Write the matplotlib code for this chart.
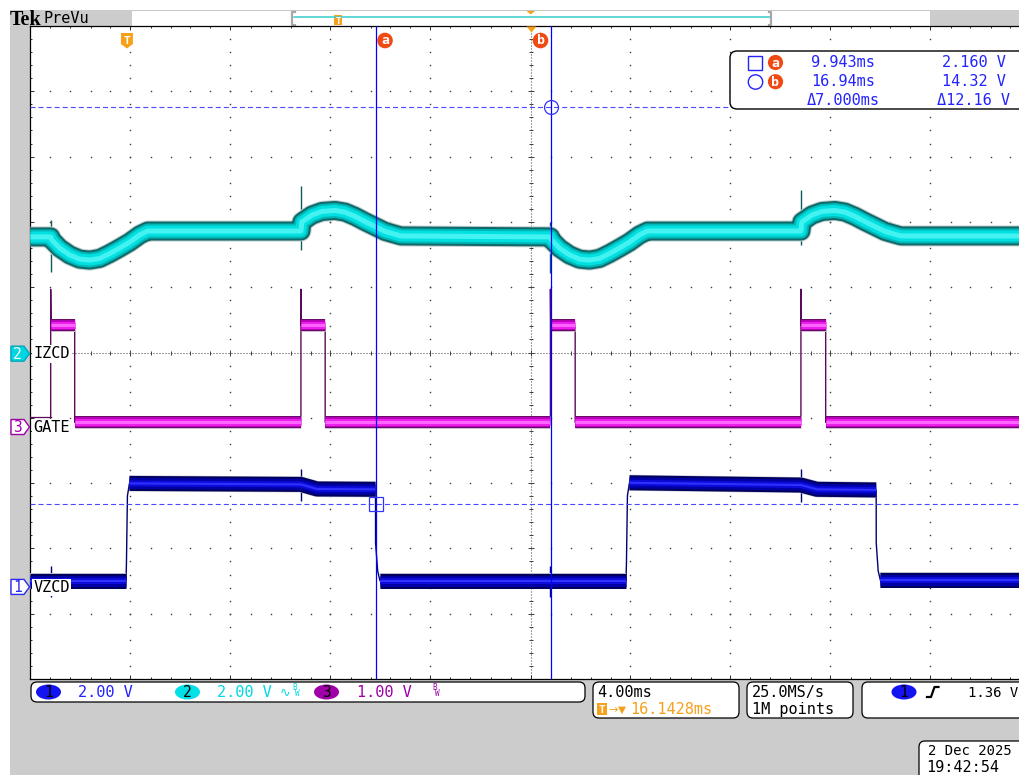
import numpy as np
import matplotlib
matplotlib.use("Agg")
import matplotlib.pyplot as plt
from matplotlib.patches import Rectangle, Polygon, Circle, Ellipse, FancyBboxPatch

plt.rcParams['font.family'] = ['DejaVu Sans Mono', 'DejaVu Sans']
plt.rcParams['lines.scale_dashes'] = False

W, H, DPI = 1020, 775, 100

# ---------------- display settings ----------------
ms_per_div = 4.00
expansion_ms = 16.1428          # screen centre, relative to the trigger
n_hdiv, n_vdiv = 10, 10
t_left = expansion_ms - ms_per_div * n_hdiv / 2
t_right = expansion_ms + ms_per_div * n_hdiv / 2

ch_names = {1: 'VZCD', 2: 'IZCD', 3: 'GATE'}
volts_per_div = {1: 2.00, 2: 2.00, 3: 1.00}
ground_div = {1: -3.395, 2: 0.0, 3: -1.141}
marker_div = {1: -3.59, 2: -0.018, 3: -1.141}
trigger_level_v = 1.36

# ---------------- channel 1 : VZCD (V) ----------------
vzcd_t = [t_left, -0.04, -0.02, 0.02, 0.10, 6.96, 7.60, 9.943, 9.945, 10.03, 10.12,
          19.96, 19.98, 20.02, 20.10, 26.96, 27.60, 29.97, 29.972, 30.05, 30.14, t_right]
vzcd_v = [-0.20, -0.20, 0.30, 2.40, 2.78, 2.75, 2.61, 2.60, 0.96, 0.10, -0.20,
          -0.20, 0.30, 2.40, 2.80, 2.73, 2.60, 2.58, 0.96, 0.10, -0.19, -0.19]
vzcd_spike_t = [-3.05, 6.96, 16.94, 26.96]
vzcd_spike_hi = [0.26, 3.22, 0.26, 3.21]
vzcd_spike_lo = [-0.69, 2.24, -0.69, 2.22]

# ---------------- channel 2 : IZCD (V) ----------------
izcd_event_t = [-3.05, 6.96, 16.94, 26.96]
izcd_event_kind = ['dip', 'hump', 'dip', 'hump']
dip_off_ms = [0.00, 0.04, 0.36, 0.76, 1.16, 1.56, 1.96, 2.36, 2.76, 3.16, 3.56, 3.88]
dip_v = [3.54, 3.45, 3.20, 2.99, 2.86, 2.83, 2.88, 3.03, 3.20, 3.38, 3.60, 3.72]
hump_off_ms = [0.00, 0.04, 0.44, 0.84, 1.36, 1.76, 2.16, 2.56, 2.96, 3.36, 3.72, 4.00]
hump_v = [3.72, 4.00, 4.21, 4.32, 4.35, 4.30, 4.17, 4.01, 3.86, 3.71, 3.63, 3.57]
izcd_start_v = 3.54
izcd_end_v = 3.57
izcd_spike_hi = [4.06, 5.10, 4.00, 4.98]
izcd_spike_lo = [2.47, 3.14, 2.45, 3.29]

# ---------------- channel 3 : GATE (V) ----------------
gate_rise_t = [-3.05, 6.96, 16.94, 26.96]
gate_fall_t = [-2.09, 7.93, 17.93, 27.95]
gate_low_v = 0.07
gate_high_v = 1.56
gate_overshoot_v = 2.11
gate_idle_v = 0.16

# ---------------- cursors ----------------
cursor_t = [9.943, 16.943]      # ms
cursor_v = [2.160, 14.32]       # V on channel 1

# ---------------- build traces ----------------
izcd_t, izcd_v = [t_left], [izcd_start_v]
for te, kind in zip(izcd_event_t, izcd_event_kind):
    off, prof = (dip_off_ms, dip_v) if kind == 'dip' else (hump_off_ms, hump_v)
    izcd_t += [te + o for o in off]
    izcd_v += list(prof)
izcd_t.append(t_right)
izcd_v.append(izcd_end_v)

gate_t, gate_v = [], []
for i, (r, f) in enumerate(zip(gate_rise_t, gate_fall_t)):
    gate_t += [r, r, r + 0.012, f, f]
    gate_v += [gate_idle_v if i == 0 else gate_low_v, gate_overshoot_v,
               gate_high_v, gate_high_v, gate_low_v]
gate_t.append(t_right)
gate_v.append(gate_low_v)


def to_div(v, ch):
    return np.asarray(v, float) / volts_per_div[ch] + ground_div[ch]


# ---------------- figure ----------------
fig = plt.figure(figsize=(W / DPI, H / DPI), dpi=DPI)
fig.patch.set_facecolor('white')

bg = fig.add_axes([0, 0, 1, 1], zorder=0)
bg.set_xlim(0, W)
bg.set_ylim(H, 0)
bg.axis('off')

GREY = '#cccccc'
bg.add_patch(Rectangle((10, 9.5), W - 10, 1.5, color='#c6c6c6', lw=0))
bg.add_patch(Rectangle((10, 10), 122, 16, color=GREY, lw=0))
bg.add_patch(Rectangle((930, 10), 90, 16, color=GREY, lw=0))
bg.add_patch(Rectangle((10, 26), 20, H - 26, color=GREY, lw=0))
bg.add_patch(Rectangle((10, 679), W - 10, H - 679, color=GREY, lw=0))
bg.text(10, 25, 'Tek', family='Liberation Serif', weight='bold', fontsize=14.5, va='baseline')
bg.text(44, 22.8, 'PreVu', fontsize=11, va='baseline')

# record bar
bg.plot([294, 770], [16.7, 16.7], color='#38cccc', lw=1.1)
for xb, d in [(292.5, 1), (771.5, -1)]:
    bg.plot([xb + 2.5 * d, xb, xb, xb + 2.5 * d], [12, 12, 24.5, 24.5], color='#a8a8a8', lw=1.6)
bg.add_patch(Rectangle((334, 15), 8, 10, color='#f7a11a', lw=0))
bg.text(338, 23.5, 'T', color='white', fontsize=6.5, weight='bold', ha='center', va='baseline')
bg.add_patch(Polygon([(526.5, 11), (535, 11), (530.75, 14.5)], color='#f7a11a', lw=0))

# ---------------- graticule axes ----------------
ax = fig.add_axes([30.5 / W, 96 / H, 1000 / W, 653 / H], zorder=1)
ax.set_facecolor('white')
ax.set_xlim(t_left, t_right)
ax.set_ylim(-n_vdiv / 2, n_vdiv / 2)
SX = 1000 / (t_right - t_left)
SY = 653 / n_vdiv

xmaj = t_left + ms_per_div * np.arange(n_hdiv + 1)
xmin = t_left + ms_per_div / 5 * np.arange(5 * n_hdiv + 1)
ymaj = np.arange(-n_vdiv / 2, n_vdiv / 2 + 1)
ymin = -n_vdiv / 2 + 0.2 * np.arange(5 * n_vdiv + 1)
ax.set_xticks(xmaj)
ax.set_xticks(xmin, minor=True)
ax.set_yticks(ymaj)
ax.set_yticks(ymin, minor=True)
ax.tick_params(which='both', direction='in', top=True, bottom=True, left=True, right=False,
               labelbottom=False, labelleft=False, color='#303030', width=0.72)
ax.tick_params(which='major', length=3.0)
ax.tick_params(which='minor', length=1.4)
for s in ['left', 'top', 'bottom']:
    ax.spines[s].set_color('black')
    ax.spines[s].set_linewidth(0.9)
ax.spines['right'].set_visible(False)

DOT = dict(ls='none', marker='s', ms=1.0, mew=0, color='#3a3a3a', zorder=1)
for xv in xmaj[1:-1]:
    if abs(xv - expansion_ms) > 1e-6:
        ax.plot(np.full(len(ymin) - 2, xv), ymin[1:-1], **DOT)
for yv in ymaj[1:-1]:
    if abs(yv) > 1e-6:
        ax.plot(xmin[1:-1], np.full(len(xmin) - 2, yv), **DOT)
# centre cross
ax.axhline(0, color='#444444', lw=0.75, dashes=(0.72, 1.44), zorder=1)
ax.axvline(expansion_ms, color='#444444', lw=0.75, dashes=(0.72, 1.44), zorder=1)
ax.plot(xmin[1:-1], np.zeros(len(xmin) - 2), ls='none', marker='|', ms=3.0, mew=0.72, color='#444444', zorder=1)
ax.plot(xmaj[1:-1], np.zeros(len(xmaj) - 2), ls='none', marker='|', ms=5.0, mew=0.72, color='#444444', zorder=1)
ax.plot(np.full(len(ymin) - 2, expansion_ms), ymin[1:-1], ls='none', marker='_', ms=3.0, mew=0.72, color='#444444', zorder=1)
ax.plot(np.full(len(ymaj) - 2, expansion_ms), ymaj[1:-1], ls='none', marker='_', ms=5.0, mew=0.72, color='#444444', zorder=1)


def flat_runs(t, y, max_ratio=3.0):
    t = np.asarray(t, float)
    y = np.asarray(y, float)
    runs, cur = [], [0]
    for i in range(1, len(t)):
        dx = abs(t[i] - t[i - 1]) * SX
        dy = abs(y[i] - y[i - 1]) * SY
        if dy > max_ratio * max(dx, 1e-9):
            if len(cur) > 1:
                runs.append(cur)
            cur = [i]
        else:
            cur.append(i)
    if len(cur) > 1:
        runs.append(cur)
    return [(t[r], y[r]) for r in runs]


def draw_band(t, y, layers, z, max_ratio=3.0):
    for rt, ry in flat_runs(t, y, max_ratio):
        for lw_px, col in layers:
            ax.plot(rt, ry, color=col, lw=lw_px * 0.72, solid_capstyle='butt',
                    solid_joinstyle='round', zorder=z)


CYAN_LAYERS = [(21, '#c4cdcd'), (19, '#0e6a6a'), (15, '#00b6b6'), (11, '#00e0e0'), (5, '#45f2f2')]
MAG_LAYERS = [(13, '#d0bcd0'), (12, '#6a0a6a'), (10, '#b800b8'), (7, '#ec20ec'), (3, '#ff66ff')]
BLUE_LAYERS = [(16, '#babacd'), (15, '#00005e'), (11, '#0000a4'), (6, '#0c0cdc'), (2, '#3030ff')]

# IZCD
izcd_d = to_div(izcd_v, 2)
ax.vlines(izcd_event_t, to_div(izcd_spike_lo, 2), to_div(izcd_spike_hi, 2), color='#0b5c5c', lw=1.0, zorder=3)
draw_band(izcd_t, izcd_d, CYAN_LAYERS, 3, max_ratio=50)

# GATE
gate_d = to_div(gate_v, 3)
ax.plot([t_left, gate_rise_t[0]], to_div([gate_idle_v, gate_idle_v], 3), color='#5a0a5a', lw=0.9, zorder=3)
ax.plot(gate_t, gate_d, color='#5a0a5a', lw=1.0, zorder=3)
draw_band(gate_t, gate_d, MAG_LAYERS, 3)

# VZCD
vzcd_d = to_div(vzcd_v, 1)
ax.vlines(vzcd_spike_t, to_div(vzcd_spike_lo, 1), to_div(vzcd_spike_hi, 1), color='#00006e', lw=1.0, zorder=4)
ax.plot(vzcd_t, vzcd_d, color='#00006e', lw=1.0, zorder=4)
draw_band(vzcd_t, vzcd_d, BLUE_LAYERS, 4)

# cursors
for ct in cursor_t:
    ax.axvline(ct, color='#0000ff', lw=0.9, zorder=8)
for cv in cursor_v:
    ax.axhline(to_div(cv, 1), color='#4848ff', lw=0.8, dashes=(3.6, 2.2), zorder=8)
ax.plot([cursor_t[0]], [to_div(cursor_v[0], 1)], marker='s', ms=10, mfc='none', mec='#3232ff', mew=0.9, zorder=9)
ax.plot([cursor_t[1]], [to_div(cursor_v[1], 1)], marker='o', ms=10, mfc='none', mec='#3232ff', mew=0.9, zorder=9)

# expansion point marker on the top edge
ax.plot([expansion_ms], [n_vdiv / 2 - 3 / SY], marker=[(-1, 0.6), (1, 0.6), (0, -0.6)], ms=7.2,
        color='#f7a11a', mew=0, clip_on=False, zorder=9)

fig.canvas.draw()


def sx(t):
    return ax.transData.transform((t, 0))[0]


def sy(d):
    return H - ax.transData.transform((t_left, d))[1]


# ---------------- foreground annotations ----------------
fg = fig.add_axes([0, 0, 1, 1], zorder=3)
fg.set_xlim(0, W)
fg.set_ylim(H, 0)
fg.axis('off')

ORANGE = '#f7a11a'
RED = '#f04a14'
BLUE_T = '#2323ff'
CYAN_T = '#00d8e2'
PURP_T = '#a000a8'

# trigger-position shield
tx = sx(0.0)
fg.add_patch(Polygon([(tx - 6, 33), (tx + 6, 33), (tx + 6, 44), (tx, 48.5), (tx - 6, 44)], color=ORANGE, lw=0))
fg.text(tx, 44, 'T', color='white', fontsize=8, weight='bold', ha='center', va='baseline')

# cursor badges
for ct, dx, lab in [(cursor_t[0], 9.5, 'a'), (cursor_t[1], -10.0, 'b')]:
    cx = sx(ct) + dx
    fg.add_patch(Circle((cx, 40.5), 7.8, color=RED, lw=0))
    fg.text(cx, 44.5, lab, color='white', fontsize=9.5, weight='bold', ha='center', va='baseline')

# channel ground markers and names
mk_style = {
    2: dict(fc='#00d6e4', ec='#00a8b8', tc='white'),
    3: dict(fc='white', ec=PURP_T, tc=PURP_T),
    1: dict(fc='white', ec='#2a2af0', tc='#2a2af0'),
}
for ch in [2, 3, 1]:
    c = sy(marker_div[ch])
    st = mk_style[ch]
    fg.add_patch(Polygon([(11, c - 7.5), (24, c - 7.5), (29.5, c), (24, c + 7.5), (11, c + 7.5)],
                         fc=st['fc'], ec=st['ec'], lw=1.0))
    fg.text(17.5, c + 5, str(ch), color=st['tc'], fontsize=10.5, ha='center', va='baseline')
    fg.text(33.5, c + 4.8, ch_names[ch], color='black', fontsize=11, ha='left', va='baseline',
            bbox=dict(boxstyle='square,pad=0.08', fc='white', ec='none'))

# cursor readout
fg.add_patch(FancyBboxPatch((730, 51), 320, 58, boxstyle='round,pad=0,rounding_size=7',
                            fc='white', ec='black', lw=1.0))
fg.add_patch(Rectangle((748.5, 55.5), 14, 14, fc='none', ec=BLUE_T, lw=1.0))
fg.add_patch(Circle((755.5, 82), 7.2, fc='none', ec=BLUE_T, lw=1.0))
for cy, lab in [(62.5, 'a'), (81.7, 'b')]:
    fg.add_patch(Circle((775.5, cy), 7.6, color=RED, lw=0))
    fg.text(775.5, cy + 4.2, lab, color='white', fontsize=9.5, weight='bold', ha='center', va='baseline')
dt = cursor_t[1] - cursor_t[0]
dv = cursor_v[1] - cursor_v[0]
rows = [(67, f'{cursor_t[0]:.3f}ms', f'{cursor_v[0]:.3f} V'),
        (86, f'{cursor_t[1]:.2f}ms', f'{cursor_v[1]:.2f} V'),
        (105, f'\u0394{dt:.3f}ms', f'\u0394{dv:.2f} V')]
for yb, ts, vs in rows:
    fg.text(843, yb, ts, color=BLUE_T, fontsize=11, ha='center', va='baseline')
    fg.text(974, yb, vs, color=BLUE_T, fontsize=11, ha='center', va='baseline')

# ---------------- status boxes ----------------
def box(x0, y0, w, h):
    fg.add_patch(FancyBboxPatch((x0, y0), w, h, boxstyle='round,pad=0,rounding_size=6',
                                fc='white', ec='black', lw=0.9))


box(31, 682, 554, 20)
for cx, col, txt, tcol, tx0, vtxt in [(48.5, '#1414f0', '1', BLUE_T, 78, f'{volts_per_div[1]:.2f} V'),
                                      (187.5, '#00e0e6', '2', CYAN_T, 217, f'{volts_per_div[2]:.2f} V'),
                                      (326.5, '#a000a8', '3', PURP_T, 357, f'{volts_per_div[3]:.2f} V')]:
    fg.add_patch(Ellipse((cx, 692), 25, 15, color=col, lw=0))
    fg.text(cx, 697, txt, color='black', fontsize=10.5, ha='center', va='baseline')
    fg.text(tx0, 696.7, vtxt, color=tcol, fontsize=11, ha='left', va='baseline')
fg.text(280, 697, '\u223f', color=CYAN_T, fontsize=9, family=['DejaVu Sans'], ha='left', va='baseline')
fg.text(292, 690.5, 'B', color=CYAN_T, fontsize=5.5, ha='left', va='baseline')
fg.text(295, 695.5, 'W', color=CYAN_T, fontsize=5.5, ha='left', va='baseline')
fg.text(432, 690.5, 'B', color=PURP_T, fontsize=5.5, ha='left', va='baseline')
fg.text(435, 695.5, 'W', color=PURP_T, fontsize=5.5, ha='left', va='baseline')

box(593, 682, 146, 36)
fg.text(597, 696.7, f'{ms_per_div:.2f}ms', color='black', fontsize=11, ha='left', va='baseline')
fg.add_patch(Rectangle((597, 703), 10, 11.5, color=ORANGE, lw=0))
fg.text(602, 713, 'T', color='white', fontsize=8, weight='bold', ha='center', va='baseline')
fg.text(608, 713, '\u2192', color=ORANGE, fontsize=8, family=['DejaVu Sans'], ha='left', va='baseline')
fg.text(618, 713, '\u25bc', color=ORANGE, fontsize=7.5, family=['DejaVu Sans'], ha='left', va='baseline')
fg.text(630, 714, f'{expansion_ms:.4f}ms', color=ORANGE, fontsize=11, ha='left', va='baseline')

box(747, 682, 106, 36)
fg.text(752, 696.7, '25.0MS/s', color='black', fontsize=11, ha='left', va='baseline')
fg.text(752, 714, '1M points', color='black', fontsize=11, ha='left', va='baseline')

box(862, 682, 200, 36)
fg.add_patch(Ellipse((904, 692), 25, 15, color='#1414f0', lw=0))
fg.text(904, 697, '1', color='black', fontsize=10.5, ha='center', va='baseline')
fg.plot([927, 931, 934.5, 938.5], [697, 697, 687, 687], color='black', lw=1.6)
fg.text(968, 696.7, f'{trigger_level_v:.2f} V', color='black', fontsize=10, ha='left', va='baseline')

box(919, 741, 150, 60)
fg.text(928, 755, '2 Dec 2025', color='black', fontsize=10, ha='left', va='baseline')
fg.text(926, 771.7, '19:42:54', color='black', fontsize=11, ha='left', va='baseline')

fig.savefig('out.png', dpi=DPI)
